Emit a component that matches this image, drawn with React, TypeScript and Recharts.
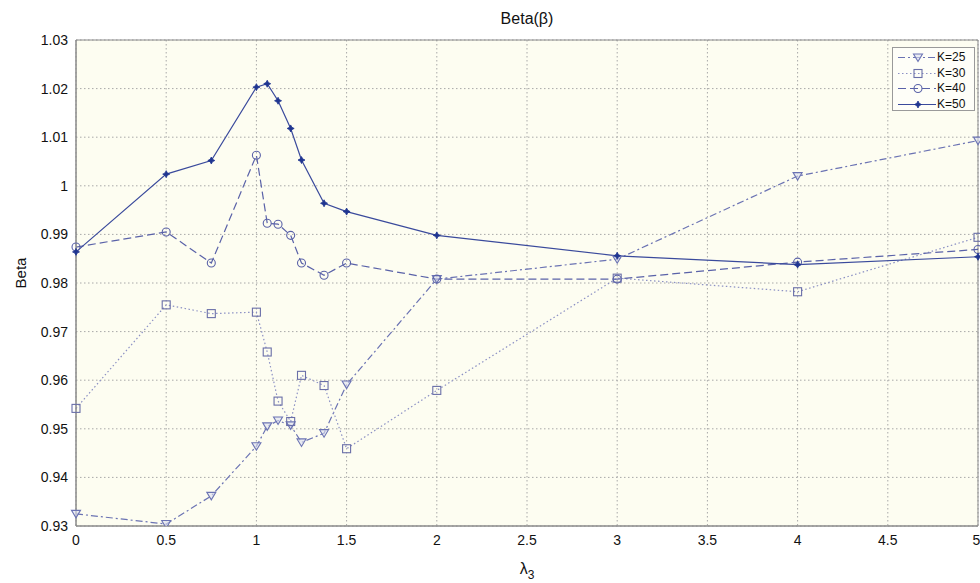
import { CartesianGrid, Line, LineChart, ReferenceArea, XAxis, YAxis } from 'recharts';

const FONT = '"Liberation Sans", Arial, Helvetica, sans-serif';

// lambda_3 sample points shared by all series
const lambdas = [0, 0.5, 0.75, 1, 1.06, 1.12, 1.19, 1.25, 1.375, 1.5, 2, 3, 4, 5];

const k25 = [0.9325, 0.9304, 0.9362, 0.9464, 0.9505, 0.9517, 0.9507, 0.9472, 0.9491, 0.9591, 0.9808, 0.9849, 1.002, 1.0093];
const k30 = [0.9542, 0.9755, 0.9737, 0.974, 0.9658, 0.9557, 0.9515, 0.961, 0.9589, 0.9459, 0.9579, 0.981, 0.9782, 0.9894];
const k40 = [0.9874, 0.9905, 0.9841, 1.0063, 0.9923, 0.9921, 0.9898, 0.9841, 0.9816, 0.9841, 0.9808, 0.9808, 0.9843, 0.9869];
const k50 = [0.9864, 1.0024, 1.0052, 1.0203, 1.021, 1.0175, 1.0118, 1.0053, 0.9964, 0.9947, 0.9898, 0.9856, 0.9838, 0.9854];

const xTicks = [0, 0.5, 1, 1.5, 2, 2.5, 3, 3.5, 4, 4.5, 5];
const yTicks = [0.93, 0.94, 0.95, 0.96, 0.97, 0.98, 0.99, 1, 1.01, 1.02, 1.03];

type Marker = 'tri' | 'square' | 'circle' | 'star';

interface SeriesDef {
  key: string;
  name: string;
  color: string;
  dash?: string;
  marker: Marker;
}

const series: SeriesDef[] = [
  { key: 'k25', name: 'K=25', color: '#6b73b3', dash: '7 3 2 3', marker: 'tri' },
  { key: 'k30', name: 'K=30', color: '#8b90c4', dash: '1.5 2.5', marker: 'square' },
  { key: 'k40', name: 'K=40', color: '#5a62a8', dash: '8 4', marker: 'circle' },
  { key: 'k50', name: 'K=50', color: '#3a4a9c', marker: 'star' },
];

const rows = lambdas.map((x, i) => ({ x, k25: k25[i], k30: k30[i], k40: k40[i], k50: k50[i] }));

function markerShape(m: Marker, cx: number, cy: number, color: string, key?: string | number) {
  switch (m) {
    case 'tri':
      return (
        <path key={key} d={`M${cx - 4.5},${cy - 3.5} L${cx + 4.5},${cy - 3.5} L${cx},${cy + 4} Z`}
          fill="#dcdff0" fillOpacity={0.6} stroke={color} strokeWidth={1.1} />
      );
    case 'square':
      return (
        <rect key={key} x={cx - 4} y={cy - 4} width={8} height={8}
          fill="none" stroke="#6a6fa8" strokeWidth={1.1} />
      );
    case 'circle':
      return <circle key={key} cx={cx} cy={cy} r={4} fill="none" stroke={color} strokeWidth={1.1} />;
    default:
      return (
        <path key={key}
          d={`M${cx},${cy - 3.5} L${cx + 1.2},${cy - 1.2} L${cx + 3.5},${cy} L${cx + 1.2},${cy + 1.2} L${cx},${cy + 3.5} L${cx - 1.2},${cy + 1.2} L${cx - 3.5},${cy} L${cx - 1.2},${cy - 1.2} Z`}
          fill="#1f3590" stroke="#1f3590" strokeWidth={0.8} />
      );
  }
}

function fmtY(v: number) {
  return String(Number(v.toFixed(2)));
}

function LegendBox() {
  return (
    <div style={{
      position: 'absolute', left: 892, top: 47, width: 83, height: 64,
      border: '1px solid #9a9a9a', background: '#fefef8', boxSizing: 'border-box',
    }}>
      {series.map((s, i) => (
        <div key={s.key} style={{ position: 'absolute', left: 0, top: 2 + i * 15.5, height: 15, width: 83 }}>
          <svg width={42} height={15} style={{ position: 'absolute', left: 3, top: 0 }}>
            <line x1={2} x2={40} y1={7.5} y2={7.5} stroke={s.color} strokeWidth={1.1}
              strokeDasharray={s.dash} />
            {markerShape(s.marker, 22, 7.5, s.color)}
          </svg>
          <span style={{
            position: 'absolute', left: 44, top: 0, fontFamily: FONT, fontSize: 12, lineHeight: '15px', color: '#111',
          }}>{s.name}</span>
        </div>
      ))}
    </div>
  );
}

export default function App() {
  return (
    <div style={{ position: 'absolute', left: 0, top: 0, width: 980, height: 583, background: '#fff', fontFamily: FONT }}>
      <div style={{
        position: 'absolute', left: 76, width: 902, top: 10, textAlign: 'center', fontSize: 16, color: '#111',
      }}>Beta(β)</div>
      <LineChart width={980} height={583} data={rows} margin={{ top: 40, right: 2, bottom: 0, left: 0 }}>
        <CartesianGrid fill="#fdfdf1" stroke="#a8a8a8" strokeDasharray="1.5 2.5" />
        <XAxis
          dataKey="x" type="number" domain={[0, 5]} ticks={xTicks} height={57}
          tickLine={false} tickSize={0} tickMargin={9}
          axisLine={{ stroke: '#8a8a8a' }}
          tick={{ fontSize: 14, fill: '#111', fontFamily: FONT }}
          label={({ viewBox }: any) => (
            <text x={viewBox.x + viewBox.width / 2} y={viewBox.y + 48} textAnchor="middle"
              fontSize={16} fill="#111" fontFamily={FONT}>
              λ<tspan fontSize={12} dy={5}>3</tspan>
            </text>
          )}
        />
        <YAxis
          type="number" domain={[0.93, 1.03]} ticks={yTicks} width={76} allowDataOverflow
          tickLine={false} tickSize={0} tickMargin={8}
          axisLine={{ stroke: '#8a8a8a' }}
          tick={{ fontSize: 14, fill: '#111', fontFamily: FONT }}
          tickFormatter={fmtY}
          label={({ viewBox }: any) => (
            <text x={22} y={viewBox.y + viewBox.height / 2 - 10} textAnchor="middle"
              transform={`rotate(-90 22 ${viewBox.y + viewBox.height / 2 - 10})`}
              fontSize={15} fill="#111" fontFamily={FONT} dominantBaseline="middle">Beta</text>
          )}
        />
        <ReferenceArea x1={0} x2={5} y1={0.93} y2={1.03} fill="none" stroke="#8a8a8a" strokeWidth={1} ifOverflow="visible" />
        {series.map((s) => (
          <Line
            key={s.key}
            dataKey={s.key}
            name={s.name}
            type="linear"
            stroke={s.color}
            strokeWidth={1.2}
            strokeDasharray={s.dash}
            dot={(p: any) => markerShape(s.marker, p.cx, p.cy, s.color, `${s.key}-${p.index}`)}
            activeDot={false}
            isAnimationActive={false}
          />
        ))}
      </LineChart>
      <LegendBox />
    </div>
  );
}
